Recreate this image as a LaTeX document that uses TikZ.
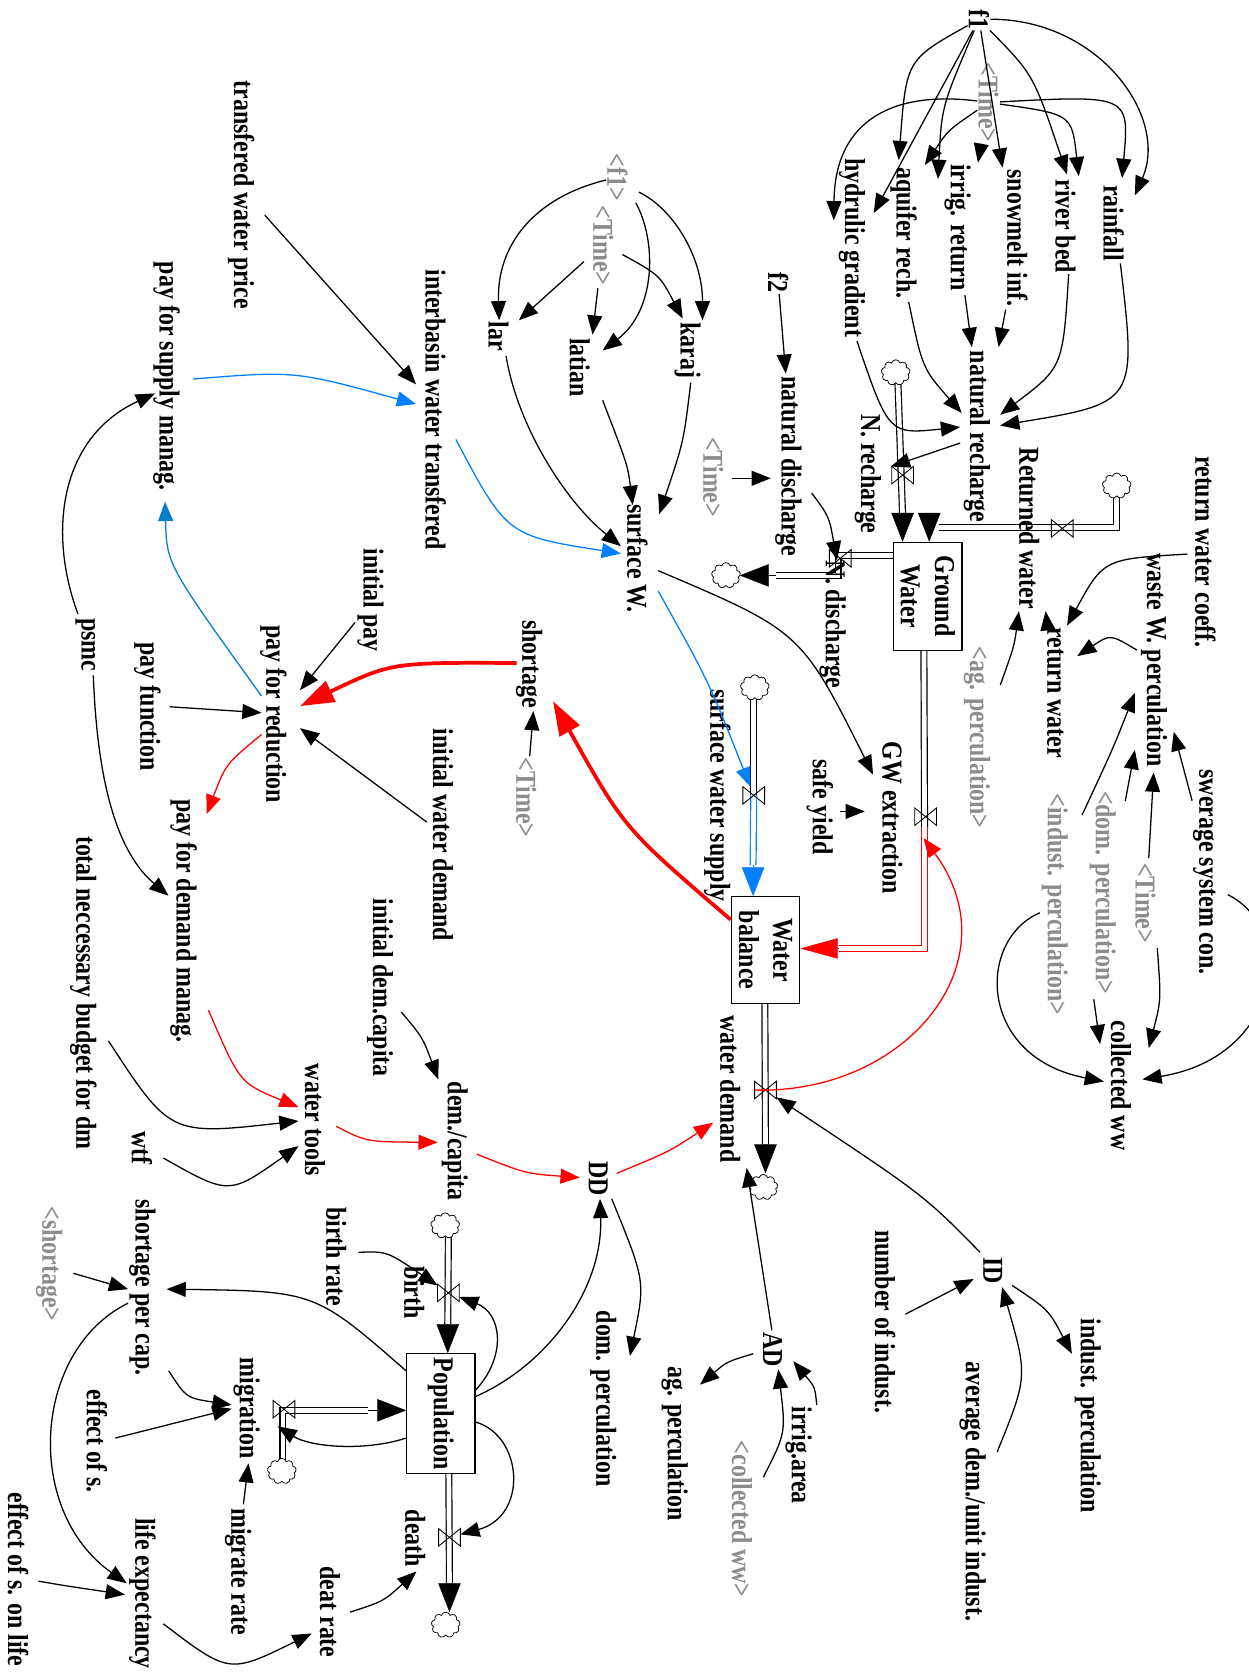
\documentclass[tikz,border=0pt]{standalone}
\usepackage{fontspec}
\setmainfont{Liberation Serif}[FakeStretch=0.83]
\usetikzlibrary{arrows.meta,calc,shapes.symbols}
\definecolor{ghostgray}{RGB}{140,140,140}
\definecolor{wblue}{RGB}{0,128,255}
\definecolor{dblue}{RGB}{0,128,200}
\newcommand\diagfont{\fontsize{27pt}{32pt}\selectfont\bfseries}
\tikzset{
 lab/.style={rotate=-90, inner sep=1pt, font=\diagfont, text=black},
 ghost/.style={lab, text=ghostgray},
 ia/.style={draw=black, line width=1.2pt, -{Triangle[length=18pt,width=14pt]}},
 ra/.style={draw=red, line width=1.2pt, -{Triangle[length=18pt,width=14pt]}},
 ba/.style={draw=wblue, line width=1.2pt, -{Triangle[length=18pt,width=14pt]}},
 bb/.style={draw=dblue, line width=1.2pt, -{Triangle[length=18pt,width=14pt]}},
 rthick/.style={draw=red, line width=3.5pt, -{Triangle[length=32pt,width=21pt]}},
 pipe/.style={draw=black, line width=1.1pt, double=white, double distance=4.4pt},
 rpipe/.style={pipe, draw=red},
 bpipe/.style={pipe, draw=wblue},
 phead/.style={draw=black, line width=0.5pt, -{Triangle[length=27pt,width=21pt]}},
 rphead/.style={draw=red, line width=0.5pt, -{Triangle[length=35pt,width=19pt]}},
 bphead/.style={draw=wblue, line width=0.5pt, -{Triangle[length=27pt,width=21pt]}},
 stock/.style={draw, line width=1.2pt, rectangle, inner sep=0, fill=white},
 valve/.style={inner sep=0, minimum width=20pt, minimum height=16pt},
 cloudn/.style={cloud, cloud puffs=9, cloud ignores aspect, draw, line width=0.7pt, minimum width=27pt, minimum height=24pt, inner sep=0, fill=white},
}
\begin{document}
\begin{tikzpicture}[x=1pt,y=-1pt]
\fill[white] (0,0) rectangle (1169,1568);
\useasboundingbox (0,0) rectangle (1169,1568);

% ---------- stocks, valves, clouds ----------
\node[stock, minimum width=64pt, minimum height=101pt] (gwb) at (869,558.5) {};
\node[stock, minimum width=64pt, minimum height=100pt] (wbb) at (717,890) {};
\node[stock, minimum width=64pt, minimum height=112pt] (popb) at (413,1324) {};

\node[valve] (vnr) at (845.5,445) {};
\node[valve] (vret) at (995,495) {};
\node[valve] (vnd) at (787,523) {};
\node[valve] (vgwe) at (867,765) {};
\node[valve] (vsws) at (706,745) {};
\node[valve] (vwd) at (717,1021) {};
\node[valve] (vbirth) at (420,1211) {};
\node[valve] (vdeath) at (421,1440) {};
\node[valve] (vmig) at (266,1320) {};

% pipes
\draw[pipe] (841,357) -- ($(gwb.north west)+(9,-26)$);
\draw[phead] ($(gwb.north west)+(9,-27)$) -- ($(gwb.north west)+(9,0)$);
\draw[pipe] (1046,463) |- ($(gwb.north west)+(43,-13)$);
\draw[phead] ($(gwb.north west)+(34,-27)$) -- ($(gwb.north west)+(34,0)$);
\draw[pipe] ($(gwb.north west)+(0,13)$) -| ($(vnd)+(-2,16)$) -- (727,539);
\draw[phead] (727,539) -- (693,539);
\draw[pipe] ($(gwb.south west)+(29,0)$) -- ($(vgwe)+(-1,10)$);
\draw[rpipe] ($(vgwe)+(-1,10)$) |- ($(wbb.north east)+(36,49)$);
\draw[rphead] ($(wbb.north east)+(36,49)$) -- ($(wbb.north east)+(0,49)$);
\draw[pipe] (706,654) -- (vsws.center);
\draw[bpipe] (vsws.center) -- ($(wbb.north west)+(21,-29)$);
\draw[bphead] ($(wbb.north west)+(21,-29)$) -- ($(wbb.north west)+(21,0)$);
\draw[pipe] ($(wbb.south west)+(32,0)$) -- (717,1072);
\draw[phead] (717,1072) -- (717,1099);
\draw[pipe] (420,1158) -- ($(popb.north west)+(39,-27)$);
\draw[phead] ($(popb.north west)+(39,-27)$) -- ($(popb.north west)+(39,0)$);
\draw[pipe] ($(popb.south west)+(40,0)$) -- (421,1483);
\draw[phead] (421,1483) -- (421,1510);
\draw[pipe] (265,1368) |- ($(popb.west)+(-36,-3)$);
\draw[phead] ($(popb.west)+(-36,-3)$) -- ($(popb.west)+(0,-3)$);

\node[cloudn] (cnr) at (839,349) {};
\node[cloudn] (cret) at (1046,455) {};
\node[cloudn] (cnd) at (680,539) {};
\node[cloudn] (csws) at (707,644) {};
\node[cloudn] (cwd) at (715,1112) {};
\node[cloudn] (cbirth) at (417,1148) {};
\node[cloudn] (cdeath) at (417.5,1522) {};
\node[cloudn] (cmig) at (264,1378) {};

\foreach \v in {vnr,vret,vnd,vgwe,vsws,vwd,vbirth,vdeath,vmig}
  \draw[line width=0.8pt] (\v.south west) -- (\v.north east) -- (\v.south east) -- (\v.north west) -- cycle;

\node[lab, align=center] (gwt) at (gwb) {Ground\\Water};
\node[lab, align=center] (wbt) at (wbb) {Water\\balance};
\node[lab] (popt) at (popb) {Population};

% ---------- variables ----------
\node[lab] (f1) at (917,18) {f1};
\node[ghost] (time1) at (926,96) {<Time>};
\node[lab] (rain) at (1043,209) {rainfall};
\node[lab] (river) at (998,212) {river bed};
\node[lab] (snow) at (953,223) {snowmelt inf.};
\node[lab] (irrig) at (897,213) {irrig. return};
\node[lab] (aqu) at (846.5,218) {aquifer rech.};
\node[lab] (hyd) at (798,232) {hydrulic gradient};
\node[lab] (natrec) at (915,409) {natural recharge};
\node[lab] (nrech) at (813,444) {N. recharge};
\node[lab] (retw) at (964,495) {Returned water};
\node[lab] (rwc) at (1129,517) {return water coeff.};
\node[lab] (wastew) at (1081,618) {waste W. perculation};
\node[lab] (retwater) at (988.5,649) {return water};
\node[ghost] (agp) at (915,691) {<ag. perculation>};
\node[lab] (gwext) at (836,766) {GW extraction};
\node[lab] (swer) at (1128,817) {swerage system con.};
\node[ghost] (time2) at (1073,846) {<Time>};
\node[ghost] (domp2) at (1033,836) {<dom. perculation>};
\node[ghost] (indp2) at (988,847) {<indust. perculation>};
\node[lab] (coll) at (1050,1017) {collected ww};
\node[ghost] (f1b) at (578.5,166) {<f1>};
\node[ghost] (time3) at (565,230) {<Time>};
\node[lab] (lar) at (467,315) {lar};
\node[lab] (latian) at (543,344) {latian};
\node[lab] (karaj) at (644,328) {karaj};
\node[lab] (f2) at (729,265) {f2};
\node[lab] (natdis) at (738.5,437) {natural discharge};
\node[ghost] (time4) at (668,447) {<Time>};
\node[lab] (interb) at (408,383.5) {interbasin water transfered};
\node[lab] (surfw) at (597,523) {surface W.};
\node[lab] (transp) at (226,182.5) {transfered water price};
\node[lab] (psm) at (156,352.5) {pay for supply manag.};
\node[lab] (psmc) at (80,604) {psmc};
\node[lab] (initpay) at (347,562) {initial pay};
\node[lab] (pfr) at (256,669) {pay for reduction};
\node[lab] (payf) at (138,662) {pay function};
\node[lab] (pdm) at (172,862.5) {pay for demand manag.};
\node[lab] (iwd) at (415,782) {initial water demand};
\node[lab] (idc) at (356,925) {initial dem.capita};
\node[lab] (tnb) at (78,930) {total neccessary budget for dm};
\node[lab] (short) at (495.6,622) {shortage};
\node[ghost] (time5) at (493,747) {<Time>};
\node[lab] (safey) at (768,756) {safe yield};
\node[lab] (sws) at (672,745) {surface water supply};
\node[lab] (ndis) at (780,585) {N. discharge};
\node[lab] (wdem) at (684,1020) {water demand};
\node[lab] (demc) at (426,1069) {dem./capita};
\node[lab] (birth) at (388,1211) {birth};
\node[lab] (dd) at (560.5,1104) {DD};
\node[lab] (domp) at (565,1310) {dom. perculation};
\node[lab] (agp2) at (632,1352) {ag. perculation};
\node[lab] (ad) at (723.6,1264) {AD};
\node[lab] (irra) at (748,1363) {irrig.area};
\node[ghost] (collg) at (695,1423) {<collected ww>};
\node[lab] (death) at (389,1441) {death};
\node[lab] (wtools) at (295,1049) {water tools};
\node[lab] (wtf) at (133,1075) {wtf};
\node[lab] (brate) at (315,1177) {birth rate};
\node[ghost] (shortg) at (46,1184) {<shortage>};
\node[lab] (spc) at (133.5,1206) {shortage per cap.};
\node[lab] (migr) at (231,1319) {migration};
\node[lab] (effs) at (90.6,1350) {effect of s.};
\node[lab] (mrate) at (223,1472) {migrate rate};
\node[lab] (lifee) at (133.5,1492.6) {life expectancy};
\node[lab] (effsl) at (17,1479.5) {effect of s. on life};
\node[lab] (drate) at (309,1510) {deat rate};
\node[lab] (id) at (930,1190) {ID};
\node[lab] (numi) at (829,1238) {number of indust.};
\node[lab] (avgd) at (911,1397) {average dem./unit indust.};
\node[lab] (indp) at (1019,1326) {indust. perculation};

% ---------- connectors: top cluster ----------
\draw[ia] (f1) .. controls (1030,18) and (1095,110) .. ($(rain)+(20,-26)$);
\draw[ia] (f1) .. controls (968,70) .. ($(river)+(1.5,-48.6)$);
\draw[ia] (f1) -- ($(snow)+(-14,-66)$);
\draw[ia] (f1) .. controls (882,100) .. ($(irrig)+(-18.4,-45.4)$);
\draw[ia] (f1) .. controls (849,56) .. ($(aqu)+(-4.7,-68)$);
\draw[ia] (f1) -- ($(hyd)+(20.4,-32.4)$);
\draw[ia] (time1) .. controls (840,85) and (782,110) .. ($(hyd)+(-17,-25.7)$);
\draw[ia] (time1) .. controls (888,122) .. ($(irrig)+(-30.7,-58.4)$);
\draw[ia] (time1) -- ($(snow)+(-37,-70.6)$);
\draw[ia] (time1) .. controls (1004,107) .. ($(river)+(12.4,-47)$);
\draw[ia] (time1) .. controls (1058,89) .. ($(rain)+(8,-42.3)$);
\draw[ia] ($(irrig)+(6.8,63.4)$) -- ($(natrec)+(-4.7,-84)$);
\draw[ia] ($(snow)+(-11,67)$) -- ($(natrec)+(20.3,-84)$);
\draw[ia] ($(river)+(3,44.7)$) .. controls (995.6,344) .. ($(natrec)+(21.8,-20.5)$);
\draw[ia] ($(rain)+(6.4,37.7)$) .. controls (1064.8,377.4) .. ($(natrec)+(21.8,-10.5)$);
\draw[ia] ($(aqu)+(4.7,65)$) .. controls (864,345) .. ($(natrec)+(-14.2,-22.2)$);
\draw[ia] ($(hyd)+(4.7,87.6)$) .. controls (832.5,407) .. ($(natrec)+(-15.7,-9)$);
\draw[ia] ($(natrec)+(-15.7,6)$) -- ($(vnr)+(-11,-8)$);

% right cluster
\draw[ia] ($(rwc)+(-16.8,2)$) .. controls (1033.7,523.5) .. ($(retwater)+(11,-63)$);
\draw[ia] ($(wastew)+(-16,-9)$) .. controls (1040,594) .. ($(retwater)+(20.5,-34.4)$);
\draw[ia] ($(agp)+(22,-49.4)$) .. controls (950,605) .. ($(retw)+(-9.6,77.5)$);
\draw[ia] (retwater) -- ($(retw)+(15.4,77.5)$);
\draw[ia] ($(swer)+(-11.4,-67)$) -- ($(wastew)+(18.4,67.4)$);
\draw[ia] ($(time2)+(3,-42.3)$) -- ($(wastew)+(-0.4,105.6)$);
\draw[ia] ($(domp2)+(21,-85.6)$) -- ($(wastew)+(-18,84.5)$);
\draw[ia] ($(indp2)+(25.5,-83.5)$) .. controls (1043,700) .. ($(wastew)+(-18,31)$);
\draw[ia] ($(time2)+(11,42)$) .. controls (1087.6,936.8) .. ($(coll)+(26,-35.4)$);
\draw[ia] ($(domp2)+(-8.5,100)$) -- ($(coll)+(-19.6,-39)$);
\draw[ia] ($(indp2)+(-14,8)$) .. controls (915,880) and (915,990) .. ($(coll)+(-16,-4)$);
\draw[ia] ($(swer)+(22,21)$) .. controls (1215,870) and (1200,990) .. ($(coll)+(20,-6)$);

% middle
\draw[ia] (f1b) .. controls (500,185) and (465,230) .. ($(lar)+(0.6,-15)$);
\draw[ia] ($(f1b)+(17,24)$) .. controls (615,225) and (615,290) .. ($(latian)+(21.5,-15.7)$);
\draw[ia] ($(f1b)+(20,14)$) .. controls (630,195) and (658,240) .. ($(karaj)+(14,-28)$);
\draw[ia] ($(time3)+(-18,15)$) -- ($(lar)+(19,-15)$);
\draw[ia] ($(time3)+(-5,40)$) -- ($(latian)+(12,-30.6)$);
\draw[ia] ($(time3)+(18,8.4)$) .. controls (617.75,257.6) .. ($(karaj)+(-4.5,-29.6)$);
\draw[ia] ($(lar)+(7,18.4)$) .. controls (485,400) and (530,470) .. ($(surfw)+(-15.4,-11.4)$);
\draw[ia] ($(latian)+(21.5,31)$) .. controls (588,436) .. ($(surfw)+(-4.4,-50)$);
\draw[ia] ($(karaj)+(3,30.4)$) .. controls (640.4,413.6) .. ($(surfw)+(20.5,-41.4)$);
\draw[ia] (f2) -- ($(natdis)+(-2.5,-87)$);
\draw[ia] ($(time4)+(18,1)$) -- ($(natdis)+(-16.5,11)$);
\draw[ia] ($(natdis)+(21.8,24.8)$) .. controls (776.6,483.8) .. ($(vnd)+(-3,2)$);
\draw[ia] ($(surfw)+(19.5,11.5)$) .. controls (750.3,591.4) .. ($(gwext)+(-18.2,-40.4)$);
\draw[ba] ($(surfw)+(19.5,30.6)$) .. controls (663.7,638) .. (vsws);
\draw[ia] ($(safey)+(19,4)$) -- ($(gwext)+(-26,-6)$);
\draw[ia] (time5) -- ($(short)+(4,44)$);
\draw[rthick] ($(wbb.north west)+(0,22)$) .. controls (584.7,776) .. ($(short)+(22.4,34.8)$);
\draw[rthick] ($(short)+(-11.6,-1)$) .. controls (366.9,620.4) .. ($(pfr)+(25,-7.6)$);
\draw[ra] (vwd.west) .. controls (850,1025) and (950,900) .. ($(vgwe)+(-2,20)$);

% left
\draw[ia] ($(transp)+(22,19)$) -- ($(interb)+(-18.3,-23.5)$);
\draw[ba] ($(psm)+(25,2.5)$) .. controls (276.6,347.3) .. ($(interb)+(-18.3,-5)$);
\draw[ba] ($(interb)+(19,28.2)$) .. controls (474.9,501.7) .. ($(surfw)+(-15.4,-4.5)$);
\draw[bb] ($(pfr)+(-11,-17)$) .. controls (156.2,528.6) .. ($(psm)+(-1.4,117.5)$);
\draw[ia] ($(psmc)+(-7,-29)$) .. controls (45,500) and (55,410) .. ($(psm)+(-10.8,16)$);
\draw[ia] ($(psmc)+(7.4,28.7)$) .. controls (90,700) and (100,790) .. ($(pdm)+(-14.2,-23.5)$);
\draw[ia] ($(initpay)+(-14.4,21)$) -- ($(pfr)+(25,-22.5)$);
\draw[ia] ($(payf)+(21,0)$) -- ($(pfr)+(-11,-1.4)$);
\draw[ia] ($(iwd)+(-15.3,-12)$) -- ($(pfr)+(25,13)$);
\draw[ra] ($(pfr)+(-11,19)$) .. controls (211.5,715.6) .. ($(pdm)+(21.6,-100)$);
\draw[ia] ($(idc)+(20,23)$) .. controls (396,972) .. ($(demc)+(-15.5,-58)$);
\draw[ra] ($(pdm)+(23.2,83.5)$) .. controls (224.6,1014.5) .. ($(wtools)+(-15.4,-12)$);
\draw[ia] ($(tnb)+(23.6,45)$) .. controls (159.4,1063.5) .. ($(wtools)+(-15.4,1)$);
\draw[ia] ($(wtf)+(20,9.7)$) .. controls (214.5,1119.5) .. ($(wtools)+(-15.4,24.5)$);
\draw[ra] ($(wtools)+(20,6)$) .. controls (343,1069.5) .. ($(demc)+(-16,1)$);
\draw[ra] ($(demc)+(20.5,12)$) .. controls (491.9,1099.2) .. ($(dd)+(-17.5,-1)$);
\draw[ra] ($(dd)+(17.2,-5)$) .. controls (626.2,1079) .. ($(wdem)+(-16,31.6)$);

% bottom
\draw[ia] ($(popb.east)+(0,-16)$) .. controls (510,1280) and (565,1210) .. ($(dd)+(1.5,19)$);
\draw[ia] ($(dd)+(12.5,19)$) .. controls (604.5,1200) .. ($(domp)+(25,-40)$);
\draw[ia] ($(ad)+(-0.6,-18)$) -- ($(wdem)+(15.4,74)$);
\draw[ia] ($(ad)+(-18,4)$) .. controls (680.75,1275.5) .. ($(agp2)+(23.7,-55)$);
\draw[ia] ($(irra)+(17,-47)$) .. controls (763.4,1299.3) .. ($(ad)+(19.4,11)$);
\draw[ia] ($(collg)+(20,-39.4)$) .. controls (736,1342.3) .. ($(ad)+(5.4,18.6)$);
\draw[ia] ($(id)+(-12,-17)$) .. controls (865.6,1119.6) .. (vwd);
\draw[ia] ($(numi)+(19,-7)$) -- ($(id)+(-18,8)$);
\draw[ia] ($(avgd)+(23,-37)$) .. controls (962.7,1289.3) .. ($(id)+(8.6,15.5)$);
\draw[ia] ($(id)+(18,14)$) .. controls (982,1226.6) .. ($(indp)+(-15,-58)$);
\draw[ia] ($(popb.east)+(0,-22)$) .. controls (475,1270) and (470,1230) .. (vbirth);
\draw[ia] ($(popb.east)+(0,8)$) .. controls (490,1345) and (495,1420) .. (vdeath);
\draw[ia] ($(popb.west)+(0,23)$) .. controls (340,1360) and (290,1355) .. ($(vmig)+(-6,16)$);
\draw[ia] ($(brate)+(20.6,-4)$) .. controls (362.5,1172) .. (vbirth);
\draw[ia] ($(drate)+(19,0)$) .. controls (359,1500) .. ($(vdeath)+(-31,32)$);
\draw[ia] ($(popb.west)+(0,-40)$) .. controls (295,1209.4) .. ($(spc)+(22.5,1.5)$);
\draw[ia] ($(shortg)+(22.7,8.7)$) -- ($(spc)+(-13.5,1.5)$);
\draw[ia] ($(spc)+(24.5,78)$) .. controls (174.5,1309.4) .. ($(migr)+(-14,-3)$);
\draw[ia] ($(effs)+(17.4,-3)$) -- ($(migr)+(-14,0.5)$);
\draw[ia] ($(mrate)+(5,-63)$) -- ($(migr)+(1.7,51.6)$);
\draw[ia] ($(spc)+(-13.5,14.6)$) .. controls (30,1265) and (22,1415) .. ($(lifee)+(-14.8,-9.6)$);
\draw[ia] ($(effsl)+(19,1.5)$) .. controls (60.9,1485.3) .. ($(lifee)+(-16.5,1)$);
\draw[ia] ($(lifee)+(19.5,28.4)$) .. controls (214.7,1568) .. ($(drate)+(-17,20)$);
\end{tikzpicture}
\end{document}
